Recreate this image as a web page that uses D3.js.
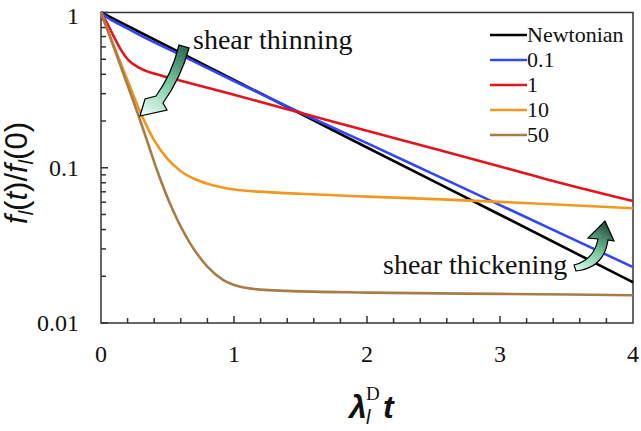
<!DOCTYPE html>
<html>
<head>
<meta charset="utf-8">
<script src="https://cdn.jsdelivr.net/npm/d3@7"></script>
<style>
  html, body { margin: 0; padding: 0; background: #fff; }
  svg { display: block; }
  .serif { font-family: "Liberation Serif", "Times New Roman", "DejaVu Serif", serif; }
  .sans { font-family: "Liberation Sans", Arial, "DejaVu Sans", sans-serif; }
</style>
</head>
<body>
<svg id="chart" width="641" height="431"></svg>
<script>
// ---------------- data ----------------
const seriesNames = ["Newtonian", "0.1", "1", "10", "50"];
const seriesColors = ["#000000", "#3346f4", "#e4141c", "#f2971e", "#a67d48"];

const tNewtonian = [0, 1, 2, 3, 4];
const vNewtonian = [1, 0.368, 0.135, 0.0498, 0.0183];

const tBlue = [0, 0.05, 0.1, 0.2, 0.3, 0.5, 0.75, 1, 1.5, 2, 2.5, 3, 3.5, 4];
const vBlue = [1, 0.925, 0.875, 0.79, 0.71, 0.585, 0.46, 0.362, 0.226, 0.144, 0.091, 0.0575, 0.0363, 0.0229];

const tRed = [0, 0.05, 0.1, 0.15, 0.2, 0.3, 0.45, 0.6, 1, 1.5, 2, 2.5, 3, 3.5, 4];
const vRed = [1, 0.84, 0.69, 0.575, 0.50, 0.435, 0.393, 0.364, 0.295, 0.226, 0.173, 0.133, 0.102, 0.078, 0.061];

const tOrange = [0, 0.1, 0.2, 0.3, 0.4, 0.5, 0.6, 0.7, 0.8, 1, 1.25, 1.5, 2, 2.5, 3, 3.5, 4];
const vOrange = [1, 0.60, 0.365, 0.224, 0.15, 0.114, 0.095, 0.085, 0.079, 0.0725, 0.0697, 0.068, 0.0652, 0.0628, 0.0603, 0.0576, 0.0548];

const tBrown = [0, 0.1, 0.2, 0.28, 0.35, 0.42, 0.54, 0.67, 0.8, 0.92, 1.05, 1.2, 1.4, 2, 3, 4];
const vBrown = [1, 0.585, 0.34, 0.219, 0.146, 0.097, 0.0534, 0.0326, 0.0231, 0.0189, 0.0171, 0.0164, 0.0161, 0.0157, 0.0154, 0.0151];

const xTickLabels = [0, 1, 2, 3, 4];
const yTickLabels = [1, 0.1, 0.01];

// ---------------- layout ----------------
const svg = d3.select("#chart");
const W = 641, H = 431;
const L = 101, R = 633, T = 12.5, B = 323;

const x = d3.scaleLinear().domain([0, 4]).range([L, R]);
const y = d3.scaleLog().domain([0.01, 1]).range([B, T]);

svg.append("rect").attr("width", W).attr("height", H).attr("fill", "#fff");

const axisColor = "#333";

// frame
svg.append("rect")
  .attr("x", L).attr("y", T).attr("width", R - L).attr("height", B - T)
  .attr("fill", "none").attr("stroke", axisColor).attr("stroke-width", 1.5);

// y ticks (inside)
const yMinor = [];
[0.01, 0.1].forEach(d => { for (let k = 2; k <= 9; k++) yMinor.push(d * k); });
svg.append("g").selectAll("line").data(yMinor).join("line")
  .attr("x1", L).attr("x2", L + 5)
  .attr("y1", d => y(d)).attr("y2", d => y(d))
  .attr("stroke", axisColor).attr("stroke-width", 1.5);
svg.append("g").selectAll("line").data(yTickLabels).join("line")
  .attr("x1", L).attr("x2", L + 7)
  .attr("y1", d => y(d)).attr("y2", d => y(d))
  .attr("stroke", axisColor).attr("stroke-width", 1.5);

// x ticks (inside)
const xMinor = d3.range(1, 20).map(i => i * 0.2).filter(v => Math.abs(v - Math.round(v)) > 1e-6);
svg.append("g").selectAll("line").data(xMinor).join("line")
  .attr("x1", d => x(d)).attr("x2", d => x(d))
  .attr("y1", B).attr("y2", B - 5)
  .attr("stroke", axisColor).attr("stroke-width", 1.5);
svg.append("g").selectAll("line").data(xTickLabels.slice(1, -1)).join("line")
  .attr("x1", d => x(d)).attr("x2", d => x(d))
  .attr("y1", B).attr("y2", B - 7)
  .attr("stroke", axisColor).attr("stroke-width", 1.5);

// tick labels
svg.append("g").selectAll("text").data(yTickLabels).join("text")
  .attr("class", "serif")
  .attr("x", 79).attr("y", d => y(d) + (d === 1 ? 3 : 0)).attr("dy", "0.35em")
  .attr("text-anchor", "end").attr("font-size", 24)
  .attr("fill", "#111")
  .text(d => String(d));
svg.append("g").selectAll("text").data(xTickLabels).join("text")
  .attr("class", "serif")
  .attr("x", d => x(d)).attr("y", 362)
  .attr("text-anchor", "middle").attr("font-size", 24)
  .attr("fill", "#111")
  .text(d => String(d));

// ---------------- lines ----------------
const series = [
  { t: tNewtonian, v: vNewtonian },
  { t: tBlue, v: vBlue },
  { t: tRed, v: vRed },
  { t: tOrange, v: vOrange },
  { t: tBrown, v: vBrown }
];
const line = d3.line().x(d => x(d[0])).y(d => y(d[1])).curve(d3.curveMonotoneX);
const gLines = svg.append("g");
series.forEach((s, i) => {
  gLines.append("path")
    .datum(s.t.map((t, j) => [t, s.v[j]]))
    .attr("d", line)
    .attr("fill", "none")
    .attr("stroke", seriesColors[i])
    .attr("stroke-width", 2.6)
    .attr("stroke-linejoin", "round");
});

// ---------------- legend ----------------
const lg = svg.append("g");
seriesNames.forEach((name, i) => {
  const ly = 35 + i * 25;
  lg.append("line").attr("x1", 490).attr("x2", 527).attr("y1", ly).attr("y2", ly)
    .attr("stroke", seriesColors[i]).attr("stroke-width", 2.6);
  lg.append("text").attr("class", "serif").attr("x", 527).attr("y", ly).attr("dy", "0.33em")
    .attr("font-size", 22).attr("fill", "#111")
    .text(name);
});

// ---------------- annotations ----------------
const defs = svg.append("defs");
const g1 = defs.append("linearGradient").attr("id", "gThin")
  .attr("gradientUnits", "userSpaceOnUse")
  .attr("x1", 185).attr("y1", 46).attr("x2", 145).attr("y2", 114);
g1.append("stop").attr("offset", 0).attr("stop-color", "#2b6a50");
g1.append("stop").attr("offset", 0.55).attr("stop-color", "#7fcfa8");
g1.append("stop").attr("offset", 1).attr("stop-color", "#e6fbf2");

const g2 = defs.append("linearGradient").attr("id", "gThick")
  .attr("gradientUnits", "userSpaceOnUse")
  .attr("x1", 576).attr("y1", 268).attr("x2", 606).attr("y2", 222);
g2.append("stop").attr("offset", 0).attr("stop-color", "#d8f6e8");
g2.append("stop").attr("offset", 0.45).attr("stop-color", "#78c9a0");
g2.append("stop").attr("offset", 1).attr("stop-color", "#1f4a38");

svg.append("path")
  .attr("d", "M179,45 Q172,74 156,96 L145,99 L140,116 L167,110 L163,103 Q181,78 189,48 Z")
  .attr("fill", "url(#gThin)").attr("stroke", "#000").attr("stroke-width", 1.2)
  .attr("stroke-linejoin", "miter");

svg.append("path")
  .attr("d", "M576,271 Q604,268 608,240 L614,241 L605,221 L588,238 L598,239 Q594,260 574,265 Z")
  .attr("fill", "url(#gThick)").attr("stroke", "#000").attr("stroke-width", 1.2)
  .attr("stroke-linejoin", "miter");

svg.append("text").attr("class", "serif").attr("x", 193).attr("y", 49)
  .attr("font-size", 28).attr("fill", "#111")
  .text("shear thinning");
svg.append("text").attr("class", "serif").attr("x", 383).attr("y", 274)
  .attr("font-size", 28).attr("fill", "#111")
  .text("shear thickening");

// ---------------- axis titles ----------------
const yl = svg.append("text")
  .attr("class", "sans")
  .attr("transform", "translate(27,173) rotate(-90)")
  .attr("text-anchor", "middle")
  .attr("font-size", 31).attr("fill", "#111");
yl.append("tspan").attr("font-style", "italic").text("f");
yl.append("tspan").attr("font-style", "italic").attr("font-size", 20).attr("dy", 6).text("l");
yl.append("tspan").attr("dy", -6).text("(");
yl.append("tspan").attr("font-style", "italic").text("t");
yl.append("tspan").text(")/");
yl.append("tspan").attr("font-style", "italic").text("f");
yl.append("tspan").attr("font-style", "italic").attr("font-size", 20).attr("dy", 6).text("l");
yl.append("tspan").attr("dy", -6).text("(0)");

const xl = svg.append("g").attr("fill", "#111");
xl.append("text").attr("class", "sans").attr("x", 349).attr("y", 418)
  .attr("font-style", "italic").attr("font-weight", "bold")
  .attr("font-size", 32).text("λ");
xl.append("text").attr("class", "sans").attr("x", 366).attr("y", 424)
  .attr("font-style", "italic")
  .attr("font-size", 20).text("l");
xl.append("text").attr("class", "serif").attr("x", 366).attr("y", 400)
  .attr("font-size", 19).text("D");
xl.append("text").attr("class", "sans").attr("x", 383).attr("y", 418)
  .attr("font-style", "italic").attr("font-weight", "bold")
  .attr("font-size", 32).text("t");
</script>
</body>
</html>
